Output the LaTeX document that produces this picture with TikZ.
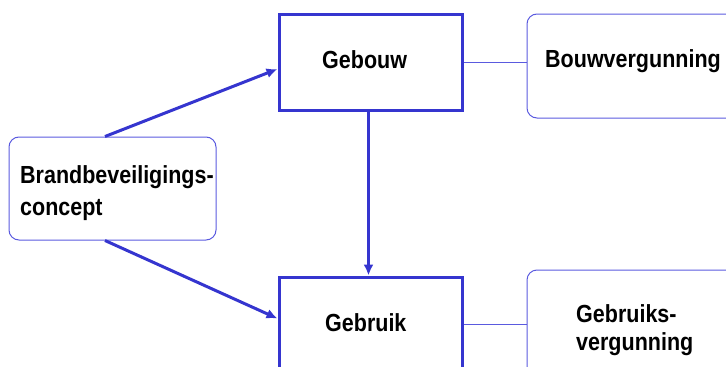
\documentclass[tikz,border=0pt]{standalone}
\usepackage{fontspec}
\setmainfont{Liberation Sans}
\usetikzlibrary{arrows.meta,calc}
\definecolor{thickblue}{HTML}{3535CF}
\definecolor{thinblue}{HTML}{5A5ADF}
\newcommand{\tallt}[1]{\scalebox{1}[1.15]{#1}}
\tikzset{
  mainbox/.style={draw=thickblue, line width=3pt, rectangle, inner sep=0pt},
  sidebox/.style={draw=thinblue, line width=1pt, rectangle, rounded corners=10pt, inner sep=0pt},
  lbl/.style={inner sep=0pt, font=\fontsize{21.5}{30}\selectfont\bfseries},
  arr/.style={draw=thickblue, line width=3pt, -{Latex[length=11pt,width=10pt]}},
  link/.style={draw=thinblue, line width=1pt}
}
\begin{document}
\begin{tikzpicture}[x=1pt,y=-1pt]
\useasboundingbox (0,0) rectangle (726,367);
\clip (0,0) rectangle (726,367);
% boxes
\node[mainbox, minimum width=183pt, minimum height=96pt] (gebouw) at (370.5,62) {};
\node[mainbox, minimum width=183pt, minimum height=150pt] (gebruik) at (370.5,352) {};
\node[sidebox, minimum width=240pt, minimum height=104pt] (bouwv) at (647,66) {};
\node[sidebox, minimum width=240pt, minimum height=150pt] (gebruiksv) at (647,345) {};
\node[sidebox, minimum width=207pt, minimum height=103pt] (concept) at (112.5,188.5) {};
% labels
\node[lbl, anchor=base west] (tgebouw) at (322,68) {\tallt{Gebouw}};
\node[lbl, anchor=base west] (tbouwv) at (545,67) {\tallt{Bouwvergunning}};
\node[lbl, anchor=base west] (tgebruik) at (325,331) {\tallt{Gebruik}};
\node[lbl, anchor=base west] (tc1) at (20,183) {\tallt{Brandbeveiligings-}};
\node[lbl, anchor=base west] (tc2) at (20,215) {\tallt{concept}};
\node[lbl, anchor=base west] (tg1) at (576,322) {\tallt{Gebruiks-}};
\node[lbl, anchor=base west] (tg2) at (576,350) {\tallt{vergunning}};
% connectors
\draw[arr] ([xshift=-7.5pt]concept.north) -- ([yshift=-7pt]gebouw.west);
\draw[arr] ([xshift=-7.5pt]concept.south) -- ([yshift=-43pt]gebruik.north west);
\draw[arr] ([xshift=-2pt]gebouw.south) -- ([xshift=-2pt]gebruik.north);
\draw[link] (gebouw.east) -- (gebouw.east -| bouwv.west);
\coordinate (gr) at ([yshift=-49pt]gebruik.north east);
\draw[link] (gr) -- (gr -| gebruiksv.west);
\end{tikzpicture}
\end{document}
